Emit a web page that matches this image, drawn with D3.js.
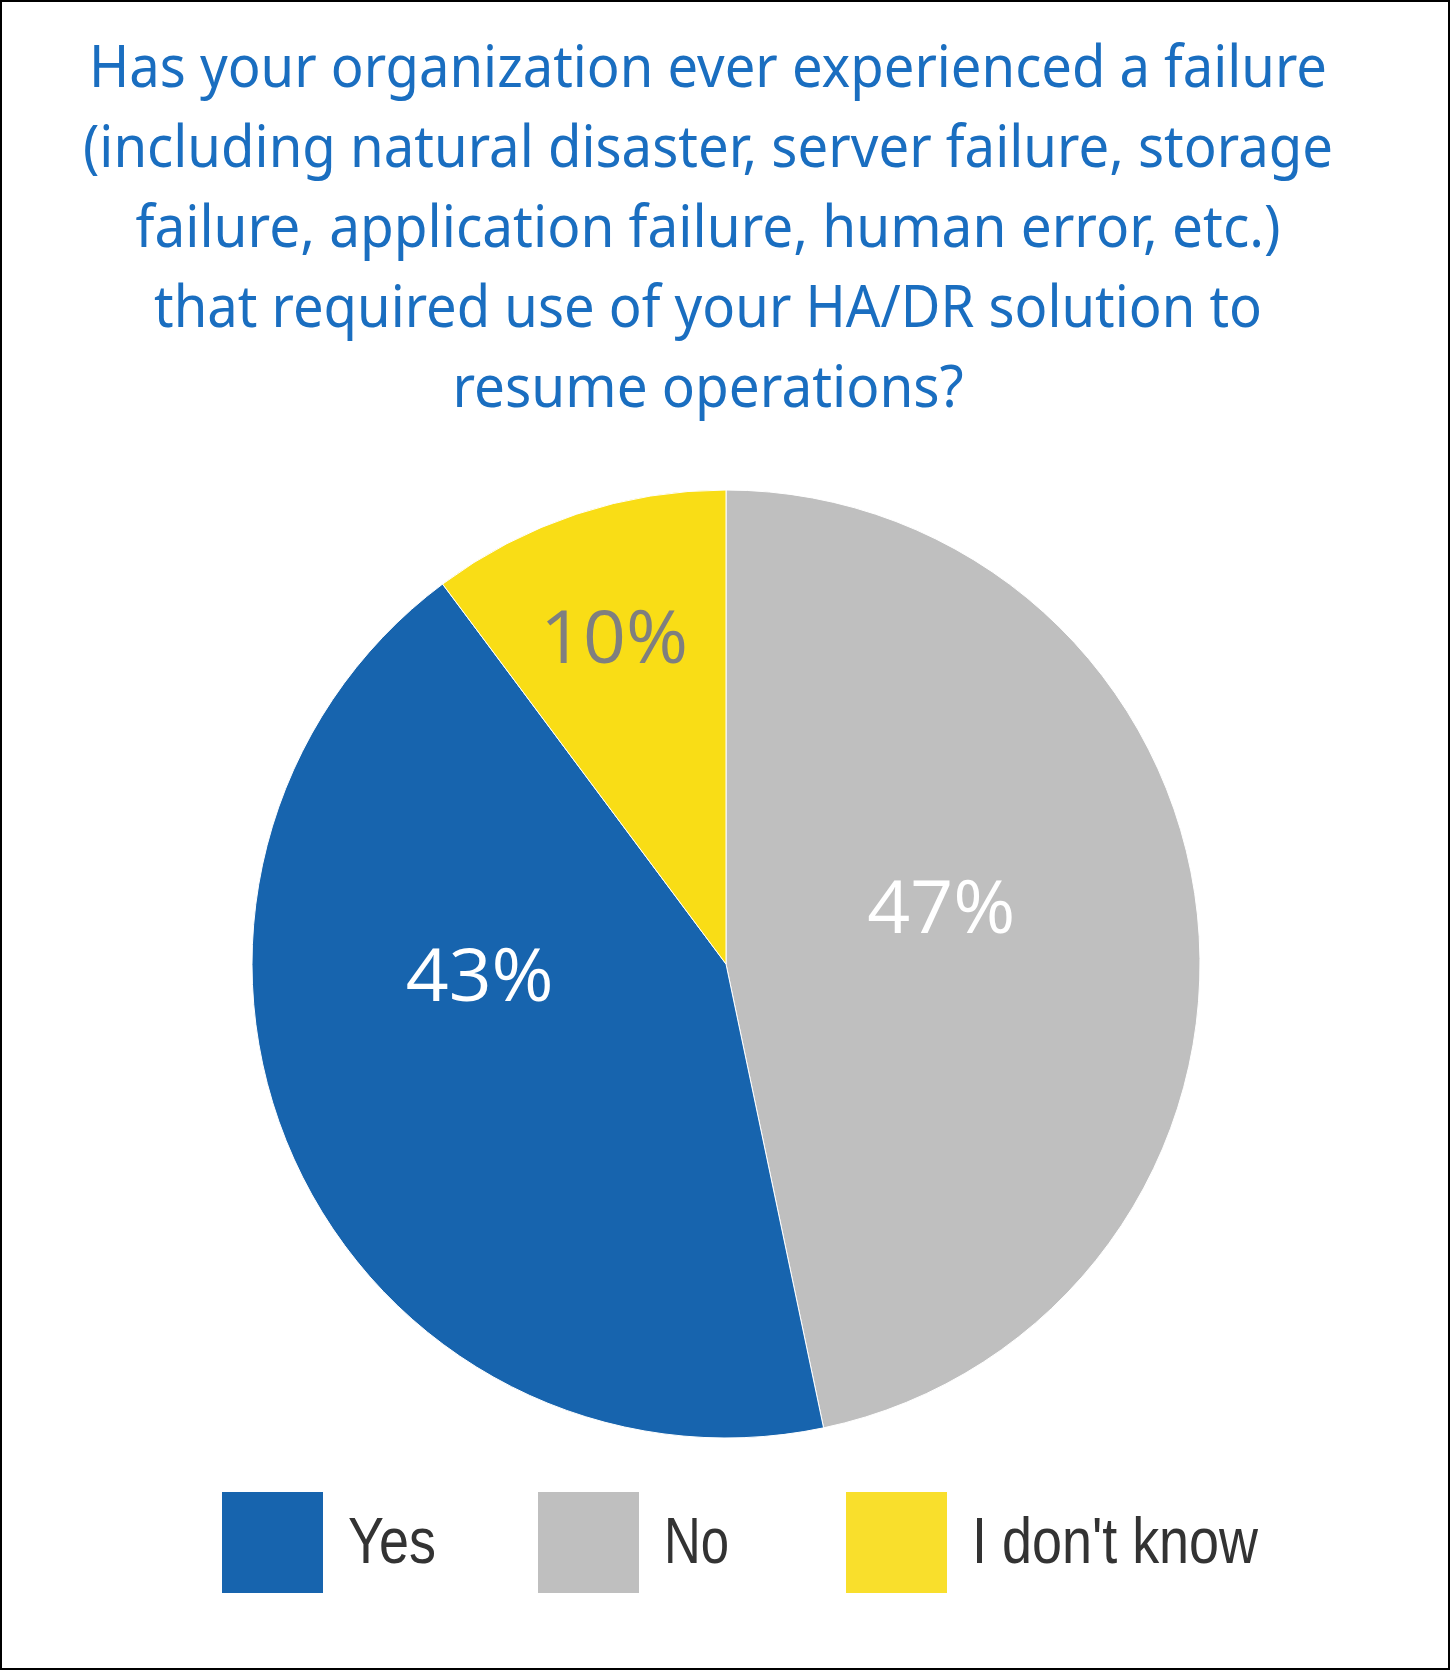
<!DOCTYPE html>
<html>
<head>
<meta charset="utf-8">
<script src="https://cdn.jsdelivr.net/npm/d3@7"></script>
<style>
  html, body { margin: 0; padding: 0; background: #fff; }
  svg { display: block; }
</style>
</head>
<body>
<div id="chart"></div>
<script>
const categories = ["No", "Yes", "I don't know"];
const values = [46.7, 43.1, 10.2];
const legendOrder = ["Yes", "No", "I don't know"];
const titleLines = [
  "Has your organization ever experienced a failure",
  "(including natural disaster, server failure, storage",
  "failure, application failure, human error, etc.)",
  "that required use of your HA/DR solution to",
  "resume operations?"
];

// layout
const width = 1450, height = 1670;
const cx = 726, cy = 964, radius = 474;
const colors = { "Yes": "#1764ae", "No": "#bfbfbf", "I don't know": "#f9dd16" };
const labelColors = { "Yes": "#ffffff", "No": "#ffffff", "I don't know": "#7f7f7f" };
// label placement per slice: fraction of radius, angle shift (deg)
const labelPlace = { "No": { k: 0.47, da: -9 }, "Yes": { k: 0.52, da: 22 }, "I don't know": { k: 0.73, da: -0.5 } };
const titleWidths = [1238, 1250, 1145, 1108, 511];
const pct = v => Math.round(v) + "%";

const svg = d3.select("#chart").append("svg")
  .attr("width", width)
  .attr("height", height);

svg.append("rect")
  .attr("x", 1).attr("y", 1)
  .attr("width", width - 2).attr("height", height - 2)
  .attr("fill", "#fff")
  .attr("stroke", "#000")
  .attr("stroke-width", 2);

// title
svg.append("g")
  .selectAll("text")
  .data(titleLines)
  .join("text")
  .attr("x", 708)
  .attr("y", (d, i) => 87 + i * 80)
  .attr("text-anchor", "middle")
  .attr("font-family", "'Noto Sans', sans-serif")
  .attr("font-size", 59)
  .attr("fill", "#1a6ec0")
  .attr("textLength", (d, i) => titleWidths[i])
  .attr("lengthAdjust", "spacingAndGlyphs")
  .text(d => d);

// pie
const pieData = d3.pie().sort(null)(values);
const arc = d3.arc().innerRadius(0).outerRadius(radius);
const g = svg.append("g").attr("transform", `translate(${cx},${cy})`);

g.selectAll("path")
  .data(pieData)
  .join("path")
  .attr("d", arc)
  .attr("fill", (d, i) => colors[categories[i]])
  .attr("stroke", "#fff")
  .attr("stroke-width", 1);

g.selectAll("text.lbl")
  .data(pieData)
  .join("text")
  .attr("class", "lbl")
  .attr("transform", (d, i) => {
    const p = labelPlace[categories[i]];
    const a = (d.startAngle + d.endAngle) / 2 + p.da * Math.PI / 180;
    const la = d3.arc().innerRadius(radius * p.k).outerRadius(radius * p.k);
    return `translate(${la.centroid({ startAngle: a, endAngle: a })})`;
  })
  .attr("dy", "0.36em")
  .attr("text-anchor", "middle")
  .attr("font-family", "'Open Sans', sans-serif")
  .attr("font-weight", 400)
  .attr("font-size", 74)
  .attr("fill", (d, i) => labelColors[categories[i]])
  .attr("textLength", 148)
  .attr("lengthAdjust", "spacingAndGlyphs")
  .text(d => pct(d.data));

// legend
const legendX = d3.scaleOrdinal().domain(legendOrder).range([222, 538, 846]);
const legendTextW = { "Yes": 88, "No": 65, "I don't know": 286 };
const legend = svg.append("g")
  .selectAll("g")
  .data(legendOrder)
  .join("g")
  .attr("transform", d => `translate(${legendX(d)},1492)`);

legend.append("rect")
  .attr("width", 101)
  .attr("height", 101)
  .attr("fill", d => d === "I don't know" ? "#f9df2c" : colors[d]);

legend.append("text")
  .attr("x", 126)
  .attr("y", 71)
  .attr("font-family", "'Liberation Sans', Arial, sans-serif")
  .attr("font-size", 64)
  .attr("fill", "#333")
  .attr("textLength", d => legendTextW[d])
  .attr("lengthAdjust", "spacingAndGlyphs")
  .text(d => d);
</script>
</body>
</html>
